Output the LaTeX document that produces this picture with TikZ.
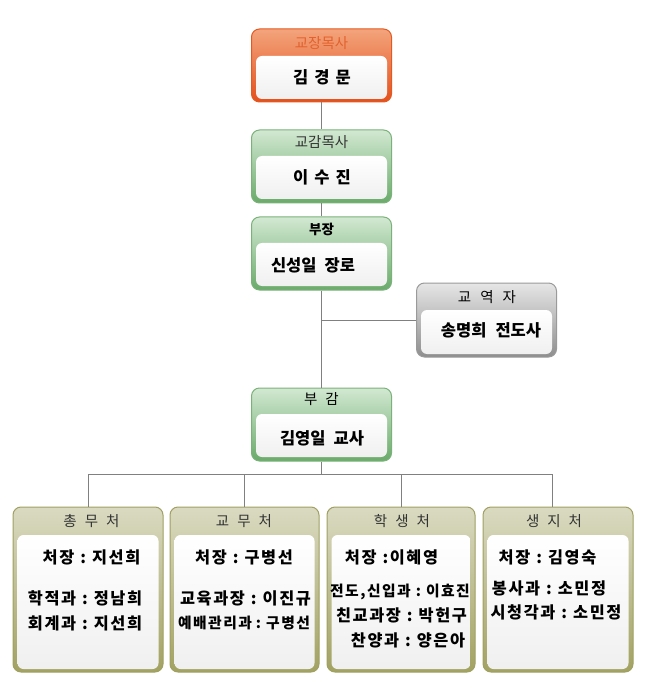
\documentclass[tikz,border=0pt]{standalone}
\usepackage{fontspec}
\newfontfamily\kr{Noto Sans CJK KR}
\newfontfamily\krls[LetterSpace=10]{Noto Sans CJK KR}
\newcommand{\kgap}[1]{\hspace*{#1pt}}
\begin{document}
\begin{tikzpicture}[x=1pt,y=-1pt,
  box/.style={rounded corners=8pt, inner sep=0pt, line width=1pt},
  orgbox/.style={box, top color=orgT, bottom color=orgB, draw=orgD},
  grnbox/.style={box, top color=grnT, bottom color=grnB, draw=grnD},
  grybox/.style={box, top color=gryT, bottom color=gryB, draw=gryD},
  olvbox/.style={box, top color=olvT, bottom color=olvB, draw=olvD},
  whitebox/.style={rounded corners=6pt, inner sep=0pt, top color=white, bottom color=black!6, draw=none},
  ttl/.style={font=\kr\fontsize{14.5}{16}\selectfont, text=black!80, inner sep=0pt},
  nm/.style={font=\kr\bfseries\fontsize{16.5}{18}\selectfont, inner sep=0pt},
  bt/.style={font=\krls\bfseries\fontsize{16.3}{18}\selectfont, inner sep=0pt},
  btsm/.style={bt, font=\krls\bfseries\fontsize{14.8}{16}\selectfont},
  link/.style={draw=black!50, line width=0.9pt}
]
\definecolor{orgT}{HTML}{F3A47C}
\definecolor{orgB}{HTML}{E4501C}
\definecolor{orgD}{HTML}{E25A22}
\definecolor{grnT}{HTML}{D2E8D2}
\definecolor{grnB}{HTML}{6AAA6A}
\definecolor{grnD}{HTML}{7AB27A}
\definecolor{gryT}{HTML}{E6E6E6}
\definecolor{gryB}{HTML}{8E8E8E}
\definecolor{gryD}{HTML}{9A9A9A}
\definecolor{olvT}{HTML}{DADAC2}
\definecolor{olvB}{HTML}{A2A262}
\definecolor{olvD}{HTML}{A0A062}
\definecolor{orgText}{HTML}{E2622E}
\useasboundingbox (0,0) rectangle (650,700);

% ---- outer boxes
\node[orgbox, minimum width=140pt, minimum height=73pt] (top) at (321.5,65.5) {};
\node[grnbox, minimum width=140pt, minimum height=73pt] (gam) at (321.5,166.5) {};
\node[grnbox, minimum width=140pt, minimum height=73pt] (bj) at (321.5,253.5) {};
\node[grybox, minimum width=140pt, minimum height=74pt] (gy) at (486.5,320) {};
\node[grnbox, minimum width=140pt, minimum height=73pt] (bg) at (321.5,424.5) {};
\node[olvbox, minimum width=150pt, minimum height=165pt] (d1) at (88,589.5) {};
\node[olvbox, minimum width=149pt, minimum height=165pt] (d2) at (244.5,589.5) {};
\node[olvbox, minimum width=148pt, minimum height=165pt] (d3) at (401,589.5) {};
\node[olvbox, minimum width=150pt, minimum height=165pt] (d4) at (558,589.5) {};

% ---- inner white panels
\node[whitebox, minimum width=131pt, minimum height=43pt] (topw) at (321.5,77.5) {};
\node[whitebox, minimum width=131pt, minimum height=43pt] (gamw) at (321.5,177.5) {};
\node[whitebox, minimum width=131pt, minimum height=43pt] (bjw) at (321.5,264.5) {};
\node[whitebox, minimum width=131pt, minimum height=44pt] (gyw) at (486.5,332) {};
\node[whitebox, minimum width=131pt, minimum height=43pt] (bgw) at (321.5,435.5) {};
\node[whitebox, minimum width=141pt, minimum height=134pt] (d1w) at (88,602) {};
\node[whitebox, minimum width=140pt, minimum height=134pt] (d2w) at (244.5,602) {};
\node[whitebox, minimum width=139pt, minimum height=134pt] (d3w) at (401,602) {};
\node[whitebox, minimum width=141pt, minimum height=134pt] (d4w) at (558,602) {};

% ---- titles
\node[ttl, text=orgText] (t1) at (321.5,43) {교장목사};
\node[ttl] (t2) at (321.5,142) {교감목사};
\node[ttl, font=\kr\bfseries\fontsize{13.5}{15}\selectfont, text=black] (t3) at (321.5,229) {부장};
\node[ttl, text=black] (t4) at (487,297) {교\kgap{9}역\kgap{9}자};
\node[ttl, text=black] (t5) at (321.5,399) {부\kgap{8}감};
\node[ttl] (t6) at (91.5,521) {총\kgap{8}무\kgap{8}처};
\node[ttl] (t7) at (244,521) {교\kgap{8}무\kgap{8}처};
\node[ttl] (t8) at (402,521) {학\kgap{8}생\kgap{8}처};
\node[ttl] (t9) at (554,521) {생\kgap{8}지\kgap{8}처};

% ---- names
\node[nm] (n1) at (322,77) {김\kgap{6}경\kgap{6}문};
\node[nm] (n2) at (322,177) {이\kgap{6}수\kgap{6}진};
\node[nm] (n3) at (313,265) {신성일\kgap{8}장로};
\node[nm] (n4) at (491,330) {송명희\kgap{9}전도사};
\node[nm] (n5) at (322,438) {김영일\kgap{8}교사};

% ---- department contents
\node[bt] (a1) at (91.5,557) {처장\kgap{6}:\kgap{6}지선희};
\node[bt] (a2) at (85,598) {학적과\kgap{6}:\kgap{6}정남희};
\node[bt] (a3) at (85,623) {회계과\kgap{6}:\kgap{6}지선희};

\node[bt] (b1) at (244,557) {처장\kgap{6}:\kgap{6}구병선};
\node[bt] (b2) at (245.5,598) {교육과장\kgap{6}:\kgap{6}이진규};
\node[btsm] (b3) at (244,623) {예배관리과\kgap{4}:\kgap{5}구병선};

\node[bt] (c1) at (391.5,557) {처장\kgap{6}:이혜영};
\node[btsm] (c2) at (400,592) {전도,신입과\kgap{5}:\kgap{5}이효진};
\node[bt] (c3) at (401.5,615) {친교과장\kgap{6}:\kgap{6}박헌구};
\node[bt] (c4) at (408,640) {찬양과\kgap{6}:\kgap{6}양은아};

\node[bt] (e1) at (547.5,557) {처장\kgap{6}:\kgap{6}김영숙};
\node[bt] (e2) at (549,588) {봉사과\kgap{6}:\kgap{6}소민정};
\node[bt] (e3) at (556,612) {시청각과\kgap{6}:\kgap{6}소민정};

% ---- connectors
\coordinate (j1) at (bj.south |- gy.west);
\coordinate (j2) at (321.5,474);
\coordinate (h1) at (d1.north |- j2);
\coordinate (h2) at (d2.north |- j2);
\coordinate (h3) at (d3.north |- j2);
\coordinate (h4) at (552,474);
\draw[link] (top.south) -- (gam.north);
\draw[link] (gam.south) -- (bj.north);
\draw[link] (bj.south) -- (bg.north);
\draw[link] (j1) -- (gy.west);
\draw[link] (bg.south) -- (j2);
\draw[link] (h1) -- (h4);
\draw[link] (h1) -- (d1.north);
\draw[link] (h2) -- (d2.north);
\draw[link] (h3) -- (d3.north);
\draw[link] (h4) -- (h4 |- d4.north);
\end{tikzpicture}
\end{document}
